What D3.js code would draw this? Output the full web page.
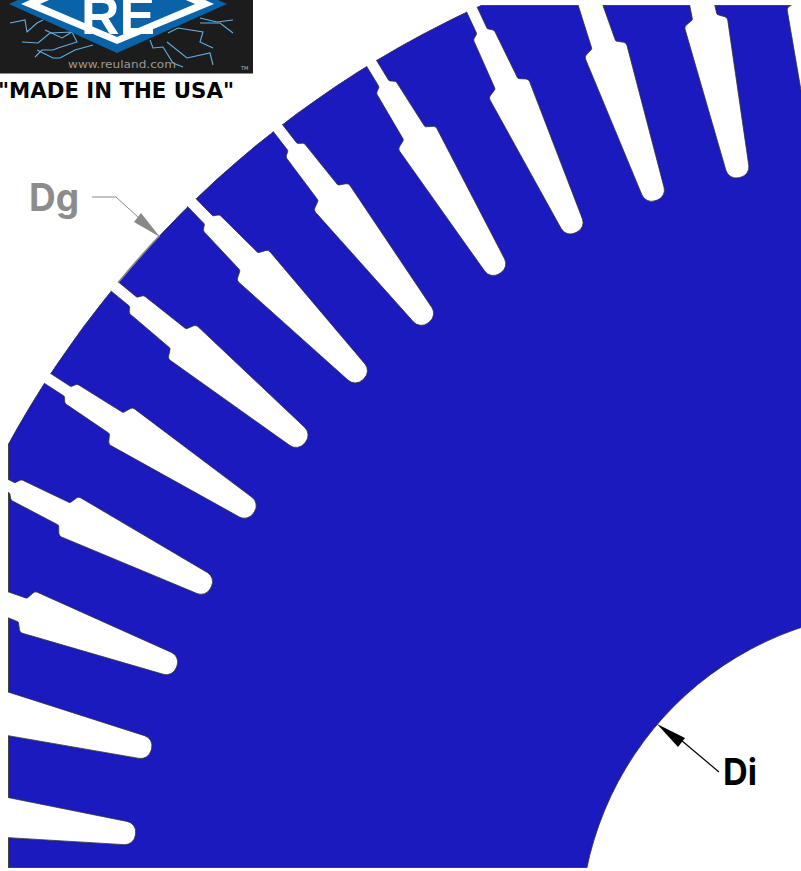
<!DOCTYPE html>
<html>
<head>
	<title>Stator lamination</title>
	<meta charset="utf-8">
	<style type="text/css">
		body{ margin: 0; background: #fff; }
		svg{ display: block; }
	</style>
	<script src="https://d3js.org/d3.v7.min.js"></script>
</head>
<body>
<div class="div1"></div>
<script type="text/javascript">

	var svgDims = {width: 801, height: 871};

	// lamination, in units measured from the bore centre
	var outerRadius = 1020;
	var boreRadius = 323;
	var slotAngles = [5.8, 12.2, 18.6, 25.0, 31.4, 37.8, 44.2, 50.6, 57.0, 63.4, 69.8, 76.2, 82.6];

	// half a slot, from the air gap down to the tip
	var slotRadius = [1045, 996, 992, 938, 933, 774];
	var slotHalfWidth = [5.8, 5.8, 11.5, 12.5, 22, 11];
	var slotCorner = [0, 2, 3.5, 2, 4, 10.5];

	var frame = {left: 8, top: 5, right: 801, bottom: 868};

	// logo
	var boltsLeft = [
		[[10,23],[25,20],[27,32],[37,23],[43,20]],
		[[22,42],[38,43],[50,33],[72,32],[77,42],[58,48],[53,50],[42,50],[35,57]],
		[[37,50],[53,58],[60,58],[75,50],[93,45]],
		[[45,30],[62,38],[72,32]]
	];
	var boltsRight = [
		[[150,40],[153,48],[163,47],[173,63],[183,67]],
		[[168,33],[178,28],[203,32],[200,42],[213,48]],
		[[167,42],[187,58],[210,53],[213,65]],
		[[200,18],[217,22],[233,20]],
		[[200,23],[220,23],[233,33]]
	];

	var x_scale = d3.scaleLinear().domain([-903, -102]).range([0, svgDims.width]);
	var y_scale = d3.scaleLinear().domain([934, 63]).range([0, svgDims.height]);
	var r_scale = d3.scaleLinear().domain([0, 1000]).range([0, 1000]);

	function toRad(a){ return a * Math.PI / 180; }

	function slotPoint(angle, r, w){
		var t = toRad(angle);
		return [x_scale(-r * Math.sin(t) + w * Math.cos(t)), y_scale(r * Math.cos(t) + w * Math.sin(t))];
	}

	function slotPath(angle){
		// one side going in, other side coming back
		var pts = [];
		slotRadius.forEach(function(r, i){ pts.push({p: slotPoint(angle, r, slotHalfWidth[i]), c: slotCorner[i]}); });
		for(var i = slotRadius.length - 1; i >= 0; i--){
			pts.push({p: slotPoint(angle, slotRadius[i], -slotHalfWidth[i]), c: slotCorner[i]});
		}
		var path = d3.path();
		path.moveTo(pts[0].p[0], pts[0].p[1]);
		for(var j = 1; j < pts.length - 1; j++){
			path.arcTo(pts[j].p[0], pts[j].p[1], pts[j + 1].p[0], pts[j + 1].p[1], pts[j].c);
		}
		path.lineTo(pts[pts.length - 1].p[0], pts[pts.length - 1].p[1]);
		path.closePath();
		return path.toString();
	}

	var svg = d3.select(".div1")
				.append("svg")
				.attr("width", svgDims.width)
				.attr("height", svgDims.height);

	var defs = svg.append("defs");

	defs.append("clipPath").attr("id", "frameClip")
		.append("rect")
		.attr("x", frame.left).attr("y", frame.top)
		.attr("width", frame.right - frame.left).attr("height", frame.bottom - frame.top);

	var ring = d3.arc()
		.innerRadius(r_scale(boreRadius))
		.outerRadius(r_scale(outerRadius))
		.startAngle(0)
		.endAngle(2 * Math.PI);

	defs.append("clipPath").attr("id", "ringClip")
		.append("path")
		.attr("transform", "translate(" + x_scale(0) + "," + y_scale(0) + ")")
		.attr("d", ring());

	var g = svg.append("g").attr("clip-path", "url(#frameClip)");

	g.append("path")
		.attr("transform", "translate(" + x_scale(0) + "," + y_scale(0) + ")")
		.attr("d", ring())
		.attr("fill", "#1a1abe")
		.attr("stroke", "#333")
		.attr("stroke-width", 0.8);

	// cut edges of the sheet
	svg.append("g").attr("clip-path", "url(#ringClip)")
		.append("rect")
		.attr("x", frame.left + 0.5).attr("y", frame.top + 0.5)
		.attr("width", frame.right - frame.left + 5).attr("height", frame.bottom - frame.top - 1)
		.attr("fill", "none")
		.attr("stroke", "#444")
		.attr("stroke-width", 1);

	svg.append("g").attr("clip-path", "url(#frameClip)")
		.selectAll("path")
		.data(slotAngles)
		.enter()
		.append("path")
		.attr("d", slotPath)
		.attr("fill", "#fff")
		.attr("stroke", "#333")
		.attr("stroke-width", 0.8);

	// slots overrun the outer circle, hide their mouths
	var outside = d3.arc().innerRadius(r_scale(outerRadius) + 0.6).outerRadius(r_scale(1060)).startAngle(-Math.PI / 2).endAngle(0);
	svg.append("path")
		.attr("transform", "translate(" + x_scale(0) + "," + y_scale(0) + ")")
		.attr("d", outside())
		.attr("fill", "#fff");

	// Dg
	var dgArc = d3.arc().innerRadius(r_scale(outerRadius)).outerRadius(r_scale(outerRadius))
		.startAngle(toRad(-50.3)).endAngle(toRad(-46.8));
	svg.append("path")
		.attr("transform", "translate(" + x_scale(0) + "," + y_scale(0) + ")")
		.attr("d", dgArc())
		.attr("fill", "none").attr("stroke", "#888").attr("stroke-width", 1.6);

	var leader = d3.line();
	svg.append("path").attr("d", leader([[92,197],[116,197],[150,228]])).attr("fill", "none").attr("stroke", "#888").attr("stroke-width", 1);
	svg.append("path").attr("d", leader([[160,237],[134,222],[141,213]])).attr("fill", "#888");
	svg.append("text").attr("x", 29).attr("y", 211)
		.attr("font-family", "Inter").attr("font-weight", 700).attr("font-size", 38)
		.attr("textLength", 50).attr("lengthAdjust", "spacingAndGlyphs")
		.attr("fill", "#8c8c8c").text("Dg");

	// Di
	svg.append("path").attr("d", leader([[719,772],[675,735]])).attr("fill", "none").attr("stroke", "#000").attr("stroke-width", 1.2);
	svg.append("path").attr("d", leader([[657,724],[685,738],[678,747]])).attr("fill", "#000");
	svg.append("text").attr("x", 723).attr("y", 785)
		.attr("font-family", "Inter").attr("font-weight", 700).attr("font-size", 37)
		.attr("textLength", 34).attr("lengthAdjust", "spacingAndGlyphs")
		.attr("fill", "#000").text("Di");

	// logo block
	var logo = svg.append("g");
	logo.append("rect").attr("x", 0).attr("y", 0).attr("width", 253).attr("height", 73.5).attr("fill", "#1c1c1c");
	logo.selectAll(".bolt")
		.data(boltsLeft.concat(boltsRight))
		.enter()
		.append("path")
		.attr("class", "bolt")
		.attr("d", leader)
		.attr("fill", "none")
		.attr("stroke", "#5fb0e6")
		.attr("stroke-width", 1.1);
	logo.append("path").attr("d", leader([[9,4],[117,-45],[227,4],[117,53]])).attr("fill", "#0a62a8");
	logo.append("path").attr("d", leader([[21,4],[117,-40],[214,4],[117,44]])).attr("fill", "#fff");
	logo.append("path").attr("d", leader([[40,4],[117,-30],[195,4],[117,37]])).attr("fill", "#0a62a8");
	logo.append("text").attr("x", 118).attr("y", 34).attr("text-anchor", "middle")
		.attr("font-family", "Liberation Sans").attr("font-weight", 700).attr("font-size", 54)
		.attr("textLength", 74).attr("lengthAdjust", "spacingAndGlyphs")
		.attr("fill", "#fff").text("RE");
	logo.append("text").attr("x", 122).attr("y", 68).attr("text-anchor", "middle")
		.attr("font-family", "DejaVu Sans").attr("font-size", 11)
		.attr("textLength", 108).attr("lengthAdjust", "spacingAndGlyphs")
		.attr("fill", "#9a9a92").text("www.reuland.com");
	logo.append("text").attr("x", 241).attr("y", 70)
		.attr("font-family", "DejaVu Sans").attr("font-size", 5)
		.attr("fill", "#bbb").text("TM");

	svg.append("text").attr("x", -2).attr("y", 98)
		.attr("font-family", "DejaVu Sans").attr("font-weight", 700).attr("font-size", 20.5)
		.attr("textLength", 236).attr("lengthAdjust", "spacingAndGlyphs")
		.attr("fill", "#000").text('"MADE IN THE USA"');

</script>
</body>
</html>
